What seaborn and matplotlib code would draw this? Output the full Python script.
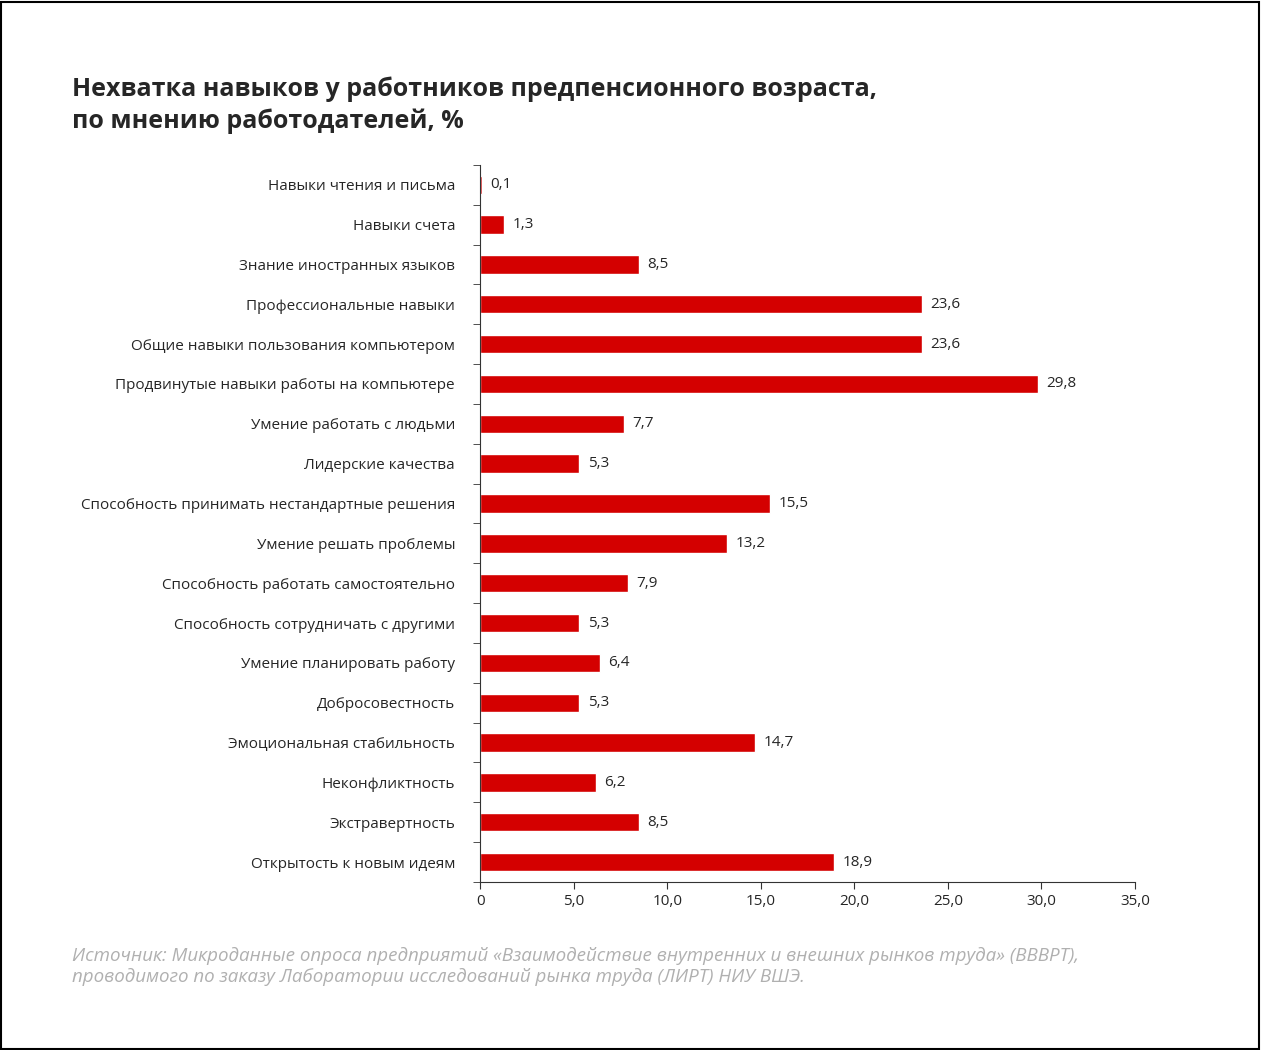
import matplotlib
matplotlib.use('Agg')
import matplotlib.pyplot as plt
import seaborn as sns
import numpy as np
import pandas as pd
from matplotlib.patches import Rectangle

categories = ['Навыки чтения и письма', 'Навыки счета', 'Знание иностранных языков',
              'Профессиональные навыки', 'Общие навыки пользования компьютером',
              'Продвинутые навыки работы на компьютере', 'Умение работать с людьми',
              'Лидерские качества', 'Способность принимать нестандартные решения',
              'Умение решать проблемы', 'Способность работать самостоятельно',
              'Способность сотрудничать с другими', 'Умение планировать работу',
              'Добросовестность', 'Эмоциональная стабильность', 'Неконфликтность',
              'Экстравертность', 'Открытость к новым идеям']
values = [0.1, 1.3, 8.5, 23.6, 23.6, 29.8, 7.7, 5.3, 15.5, 13.2, 7.9, 5.3, 6.4, 5.3, 14.7, 6.2, 8.5, 18.9]
xticks = [0, 5, 10, 15, 20, 25, 30, 35]
xticklabels = ['0', '5,0', '10,0', '15,0', '20,0', '25,0', '30,0', '35,0']

sns.set_style('white')
plt.rcParams['font.family'] = ['Open Sans', 'DejaVu Sans']

df = pd.DataFrame({'cat': categories, 'val': values})
fig = plt.figure(figsize=(12.61, 10.5), dpi=100)
ax = fig.add_axes([0.3807, 0.160, 0.5194, 0.683])
sns.barplot(data=df, x='val', y='cat', color='#d40000', width=0.46, ax=ax, saturation=1)

for i, v in enumerate(values):
    ax.text(v + 0.45, i, ('%.1f' % v).replace('.', ','), va='center', ha='left', fontsize=11)

ax.set_xlim(0, 35)
ax.set_ylim(len(values) - 0.5, -0.5)
ax.set_xticks(xticks)
ax.set_xticklabels(xticklabels, fontsize=11)
ax.tick_params(axis='y', length=0, labelsize=11, pad=18)
ax.tick_params(axis='x', length=5, color='#333333', direction='out', bottom=True)
ax.set_yticks(np.arange(-0.5, len(values), 1), minor=True)
ax.tick_params(axis='y', which='minor', length=5, color='#333333', left=True)
ax.set_xlabel('')
ax.set_ylabel('')
for s in ['top', 'right']:
    ax.spines[s].set_visible(False)
for s in ['left', 'bottom']:
    ax.spines[s].set_color('#333333')

fig.text(0.057, 0.927, 'Нехватка навыков у работников предпенсионного возраста,\nпо мнению работодателей, %',
         fontsize=18, fontweight='bold', va='top', ha='left', linespacing=1.3)
fig.text(0.057, 0.098, 'Источник: Микроданные опроса предприятий «Взаимодействие внутренних и внешних рынков труда» (ВВВРТ),\n'
         'проводимого по заказу Лаборатории исследований рынка труда (ЛИРТ) НИУ ВШЭ.',
         fontsize=13.5, style='italic', color='#b0b0b0', va='top', ha='left', linespacing=1.2)
fig.patches.append(Rectangle((0.0005, 0.0005), 0.998, 0.998, transform=fig.transFigure,
                             fill=False, edgecolor='black', linewidth=1.5))
fig.savefig('out.png', dpi=100)
